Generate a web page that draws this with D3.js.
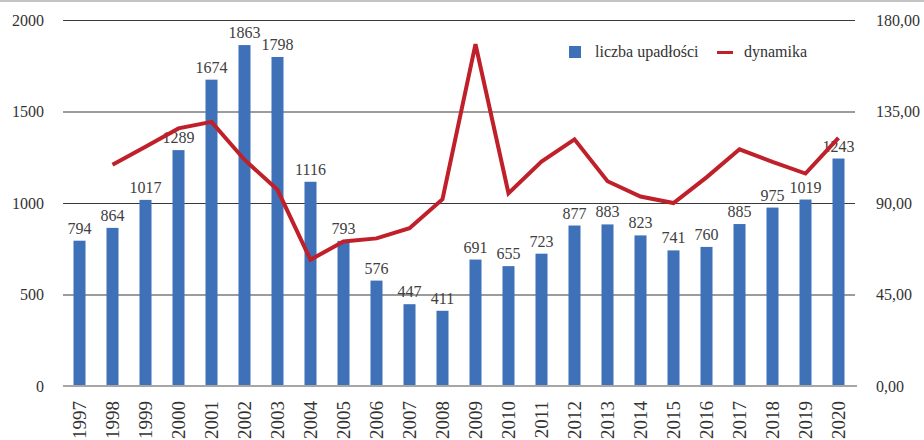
<!DOCTYPE html>
<html><head><meta charset="utf-8">
<script src="https://cdn.jsdelivr.net/npm/d3@7"></script>
<style>html,body{margin:0;padding:0;background:#fff;}svg{display:block;}</style>
</head><body>
<svg id="c" width="924" height="440"></svg>
<script>
const years = ["1997","1998","1999","2000","2001","2002","2003","2004","2005","2006","2007","2008","2009","2010","2011","2012","2013","2014","2015","2016","2017","2018","2019","2020"];
const upadlosci = [794,864,1017,1289,1674,1863,1798,1116,793,576,447,411,691,655,723,877,883,823,741,760,885,975,1019,1243];
const dynamika = [null,108.8,117.7,126.7,129.9,111.3,96.5,62.1,71.1,72.6,77.6,91.9,168.1,94.8,110.4,121.3,100.7,93.2,90.0,102.6,116.4,110.2,104.5,122.0];
const leftTicks = [0,500,1000,1500,2000];
const rightTicks = [0,45,90,135,180];
const seriesNames = ["liczba upadłości","dynamika"];

const svg = d3.select("#c");
const font = "'Liberation Serif','DejaVu Serif',serif";
const W = 924, H = 440;
const x0 = 63, x1 = 855, yTop = 20, yBot = 386;

svg.append("rect").attr("x",0).attr("y",0).attr("width",W).attr("height",2).attr("fill","#c4c4c4");

const x = d3.scaleBand().domain(years).range([x0,x1]).paddingInner(0.636).paddingOuter(0.318);
const yL = d3.scaleLinear().domain([0,2000]).range([yBot,yTop]);
const yR = d3.scaleLinear().domain([0,180]).range([yBot,yTop]);

// gridlines
const gl = d3.axisLeft(yL).tickValues(leftTicks.slice(1)).tickSize(-(x1-x0)).tickFormat("");
const g = svg.append("g").attr("transform",`translate(${x0},0)`).call(gl);
g.select(".domain").remove();
g.selectAll("line").attr("stroke","#3a3a3a").attr("stroke-width",1.2);

// left labels
const la = svg.append("g").attr("transform",`translate(${x0},0)`)
  .call(d3.axisLeft(yL).tickValues(leftTicks).tickSize(0).tickPadding(19).tickFormat(d3.format("d")));
la.select(".domain").remove();
la.selectAll("text").attr("font-family",font).attr("font-size",16).attr("fill","#333");

const ra = svg.append("g").attr("transform",`translate(${x1},0)`)
  .call(d3.axisRight(yR).tickValues(rightTicks).tickSize(0).tickPadding(21)
    .tickFormat(d=>d3.format(".2f")(d).replace(".",",")));
ra.select(".domain").remove();
ra.selectAll("text").attr("font-family",font).attr("font-size",16).attr("fill","#333");

// bars
svg.append("g").selectAll("rect").data(upadlosci).join("rect")
  .attr("x",(d,i)=>x(years[i])).attr("width",x.bandwidth())
  .attr("y",d=>yL(d)).attr("height",d=>yBot-yL(d)).attr("fill","#3f71b8");

// baseline
svg.append("line").attr("x1",x0).attr("x2",x1+2).attr("y1",yBot).attr("y2",yBot)
  .attr("stroke","#a6a6a6").attr("stroke-width",2);

// x labels
const xa = svg.append("g").attr("transform",`translate(0,${yBot})`)
  .call(d3.axisBottom(x).tickSize(0).tickPadding(0));
xa.select(".domain").remove();
xa.selectAll("text").attr("font-family",font).attr("font-size",19).attr("fill","#333")
  .attr("text-anchor","end").attr("dy",null).attr("dominant-baseline","central")
  .attr("transform","translate(0,15) rotate(-90)").attr("y",0).attr("x",0);

// value labels
svg.append("g").selectAll("text").data(upadlosci).join("text")
  .attr("x",(d,i)=>x(years[i])+x.bandwidth()/2).attr("y",d=>yL(d)-7)
  .attr("text-anchor","middle").attr("font-family",font).attr("font-size",16)
  .attr("fill","#404040").text(d=>d);

// line
const line = d3.line().defined(d=>d!=null)
  .x((d,i)=>x(years[i])+x.bandwidth()/2).y(d=>yR(d));
svg.append("path").datum(dynamika).attr("d",line).attr("fill","none")
  .attr("stroke","#c0202a").attr("stroke-width",4).attr("stroke-linejoin","miter");

// legend
const lg = svg.append("g");
lg.append("rect").attr("x",569).attr("y",46).attr("width",12).attr("height",12).attr("fill","#3f71b8");
lg.append("text").attr("x",595).attr("y",57).attr("font-family",font).attr("font-size",16).attr("fill","#333").text(seriesNames[0]);
lg.append("line").attr("x1",717).attr("x2",733).attr("y1",52.5).attr("y2",52.5).attr("stroke","#c0202a").attr("stroke-width",3);
lg.append("text").attr("x",744).attr("y",57).attr("font-family",font).attr("font-size",16).attr("fill","#333").text(seriesNames[1]);
</script>
</body></html>
